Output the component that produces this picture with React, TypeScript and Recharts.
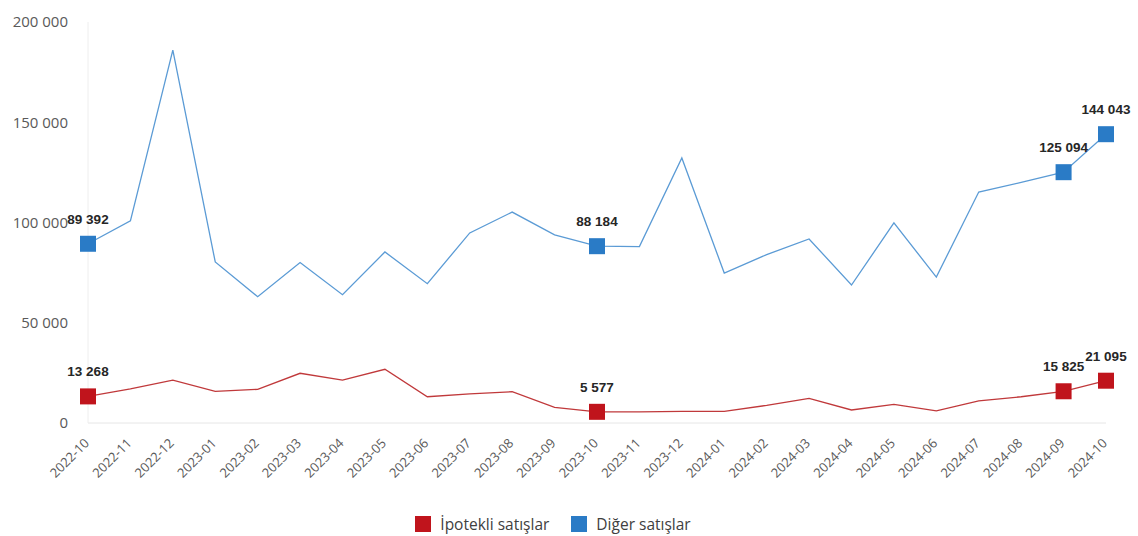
import { LineChart, Line, XAxis, YAxis, Legend } from "recharts"

const months = [
  "2022-10", "2022-11", "2022-12", "2023-01", "2023-02", "2023-03", "2023-04",
  "2023-05", "2023-06", "2023-07", "2023-08", "2023-09", "2023-10", "2023-11",
  "2023-12", "2024-01", "2024-02", "2024-03", "2024-04", "2024-05", "2024-06",
  "2024-07", "2024-08", "2024-09", "2024-10",
]

// İpotekli satışlar
const ipotekli = [
  13268, 17000, 21400, 15800, 16800, 24800, 21400, 26800, 13100, 14500, 15600,
  7800, 5577, 5500, 5800, 5800, 8800, 12300, 6500, 9300, 6100, 11000, 13100,
  15825, 21095,
]

// Diğer satışlar
const diger = [
  89392, 100800, 186000, 80300, 63000, 80000, 64000, 85300, 69500, 94800,
  105200, 93800, 88184, 88000, 132200, 74800, 84000, 91800, 68800, 99800,
  72800, 115200, 120000, 125094, 144043,
]

const yTicks = [0, 50000, 100000, 150000, 200000]

// only these points get a marker and a value label
const marked = [0, 12, 23, 24]

const data = months.map((m, i) => ({ month: m, ipotekli: ipotekli[i], diger: diger[i] }))

const fmt = (v: number) => String(v).replace(/\B(?=(\d{3})+(?!\d))/g, " ")

const makeDot = (color: string) => (props: any) => {
  const { cx, cy, index } = props
  if (!marked.includes(index)) return <g key={`d-${index}`} />
  return <rect key={`d-${index}`} x={cx - 8} y={cy - 8} width={16} height={16} fill={color} />
}

const makeLabel = (values: number[]) => (props: any) => {
  const { x, y, index } = props
  if (!marked.includes(index)) return <g key={`l-${index}`} />
  return (
    <text
      key={`l-${index}`}
      x={x}
      y={y - 20}
      textAnchor="middle"
      fontFamily="'Liberation Sans', Arial, sans-serif"
      fontWeight="bold"
      fontSize={13.5}
      fill="#262626"
    >
      {fmt(values[index])}
    </text>
  )
}

const MonthTick = (props: any) => {
  const { x, y, payload } = props
  return (
    <text
      x={x + 2}
      y={y + 13}
      textAnchor="end"
      transform={`rotate(-45, ${x + 2}, ${y + 13})`}
      fontSize={13}
      fill="#595959"
      fontFamily="'Open Sans', sans-serif"
    >
      {payload.value}
    </text>
  )
}

const legendItems = [
  { name: "İpotekli satışlar", color: "#c0141c" },
  { name: "Diğer satışlar", color: "#2a7bc6" },
]

const LegendBox = () => (
  <div style={{ display: "flex", justifyContent: "center", gap: 22, marginTop: 8, fontFamily: "'Open Sans', sans-serif", fontSize: 15.5, color: "#404040" }}>
    {legendItems.map((it) => (
      <div key={it.name} style={{ display: "flex", alignItems: "center", gap: 9 }}>
        <span style={{ width: 16, height: 16, background: it.color, display: "inline-block" }} />
        <span>{it.name}</span>
      </div>
    ))}
  </div>
)

export default function App() {
  return (
    <div style={{ position: "absolute", left: 0, top: 0, background: "#fff" }}>
      <LineChart width={1138} height={536} data={data} margin={{ top: 22, right: 32, left: 0, bottom: 4 }}>
        <XAxis
          dataKey="month"
          interval={0}
          height={82}
          tick={<MonthTick />}
          tickLine={false}
          axisLine={{ stroke: "#e6e6e6" }}
        />
        <YAxis
          width={88}
          domain={[0, 200000]}
          ticks={yTicks}
          tickFormatter={fmt}
          tickLine={false}
          tickMargin={14}
          axisLine={{ stroke: "#eeeeee" }}
          tick={{ fontSize: 15, fill: "#595959", fontFamily: "'Open Sans', sans-serif" }}
        />
        <Legend verticalAlign="bottom" height={27} content={<LegendBox />} />
        <Line
          dataKey="ipotekli"
          name="İpotekli satışlar"
          stroke="#c0393b"
          strokeWidth={1.3}
          dot={makeDot("#c0141c")}
          activeDot={false}
          label={makeLabel(ipotekli)}
          isAnimationActive={false}
        />
        <Line
          dataKey="diger"
          name="Diğer satışlar"
          stroke="#5b9bd5"
          strokeWidth={1.3}
          dot={makeDot("#2a7bc6")}
          activeDot={false}
          label={makeLabel(diger)}
          isAnimationActive={false}
        />
      </LineChart>
    </div>
  )
}
